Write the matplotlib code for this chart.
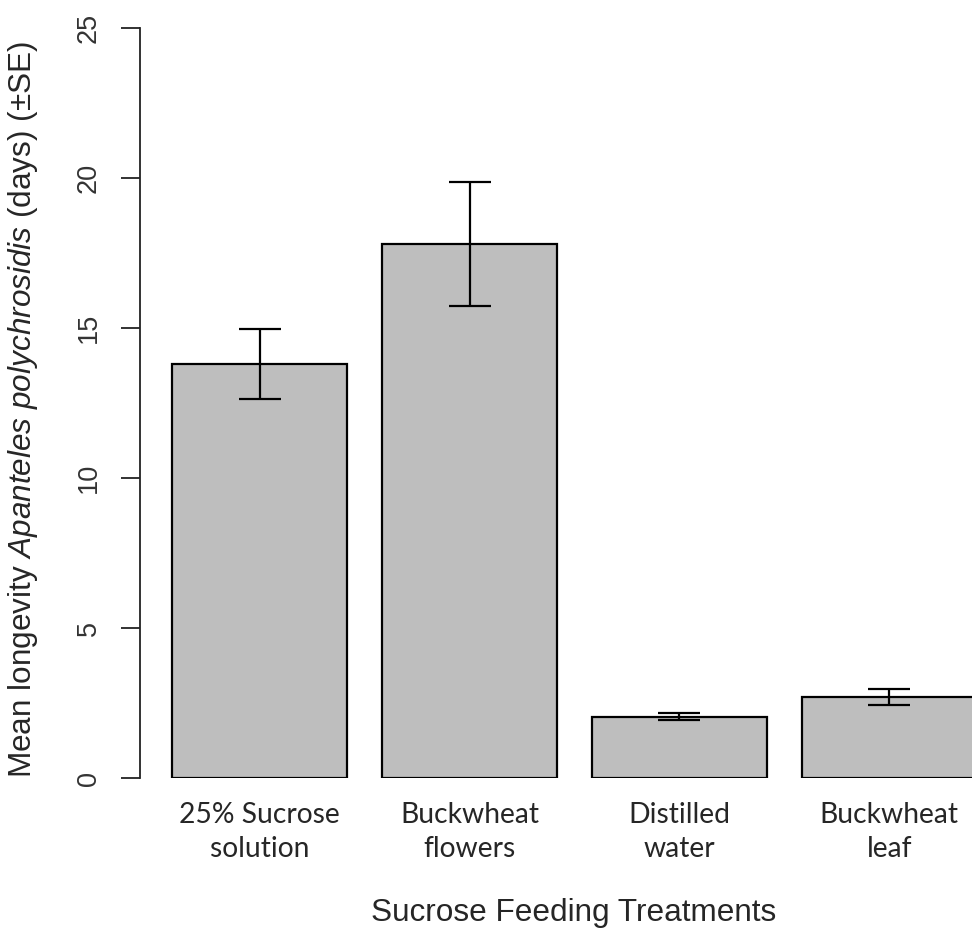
import matplotlib
matplotlib.use("Agg")
import matplotlib.pyplot as plt

categories = ["25% Sucrose\nsolution", "Buckwheat\nflowers", "Distilled\nwater", "Buckwheat\nleaf"]
means = [13.8, 17.8, 2.05, 2.7]
se = [1.17, 2.07, 0.11, 0.27]
yticks = [0, 5, 10, 15, 20, 25]

plt.rcParams['mathtext.fontset'] = 'custom'
plt.rcParams['mathtext.rm'] = 'Liberation Sans'
plt.rcParams['mathtext.it'] = 'Liberation Sans:italic'

W, H = 972, 932
fig = plt.figure(figsize=(W / 100, H / 100), dpi=100)
ax = fig.add_axes([140 / W, (H - 778) / H, (1009 - 140) / W, 750 / H])

# R barplot layout: width 1, space 0.2
centers = [0.7 + 1.2 * i for i in range(len(means))]
ax.bar(centers, means, width=1.0, color='#BEBEBE', edgecolor='black', linewidth=1.6, zorder=2)
ax.errorbar(centers, means, yerr=se, fmt='none', ecolor='black', elinewidth=1.6,
            capsize=15, capthick=1.6, zorder=3)

ax.set_xlim(0.016, 4.984)
ax.set_ylim(0, 25)
for s in ['top', 'right', 'bottom']:
    ax.spines[s].set_visible(False)
ax.spines['left'].set_linewidth(1.3)
ax.spines['left'].set_color('#222222')

ax.set_yticks(yticks)
ax.set_yticklabels([str(t) for t in yticks], rotation=90, va='center', ha='right',
                   fontsize=19.5, family='Liberation Sans', color='#333333')
ax.tick_params(axis='y', length=13.5, width=1.3, color='#222222', pad=14)

ax.set_xticks(centers)
ax.set_xticklabels(categories, fontsize=20.3, family='Lato', color='#262626', linespacing=1.42)
ax.tick_params(axis='x', length=0, pad=17)

fig.text(574 / W, 1 - 913 / H, "Sucrose Feeding Treatments", ha='center', va='center',
         fontsize=22.7, family='Liberation Sans', color='#262626')
fig.text(23 / W, 1 - 410 / H,
         r"Mean longevity $\mathit{Apanteles\ polychrosidis}$ (days) (±SE)",
         rotation=90, ha='center', va='center', fontsize=22.7,
         family='Liberation Sans', color='#262626')

fig.savefig("out.png", dpi=100)
